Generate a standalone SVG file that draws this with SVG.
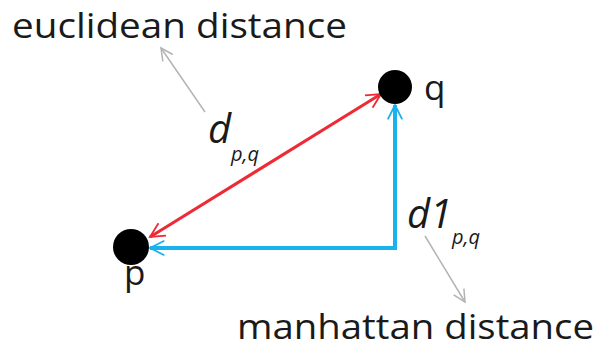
<svg xmlns="http://www.w3.org/2000/svg" width="598" height="349" viewBox="0 0 598 349">
<style>
.t{font-family:"Open Sans","Noto Sans",sans-serif;fill:#1a1a1a}
.i{font-style:italic}
.red{stroke:#ee2b35;stroke-width:3;fill:none}
.blue{stroke:#1ab2ec;stroke-width:4;fill:none}
.gray{stroke:#b3b3b3;stroke-width:1.5;fill:none}
</style>
<defs>
<marker id="ar" viewBox="0 0 10 10" refX="9" refY="5" markerWidth="6" markerHeight="6" orient="auto-start-reverse" markerUnits="strokeWidth"><path d="M1,1 L9,5 L1,9" fill="none" stroke="#ee2b35" stroke-width="1"/></marker>
<marker id="ab" viewBox="0 0 10 10" refX="9" refY="5" markerWidth="4.5" markerHeight="4.5" orient="auto" markerUnits="strokeWidth"><path d="M1,1 L9,5 L1,9" fill="none" stroke="#1ab2ec" stroke-width="1"/></marker>
<marker id="ag" viewBox="0 0 10 10" refX="9" refY="5" markerWidth="10" markerHeight="10" orient="auto" markerUnits="strokeWidth"><path d="M1,1 L9,5 L1,9" fill="none" stroke="#b3b3b3" stroke-width="1"/></marker>
</defs>
<g id="connectors">
<line class="red" x1="150" y1="237" x2="381" y2="94" marker-start="url(#ar)" marker-end="url(#ar)"/>
<polyline class="blue" points="395,248 150,248" marker-end="url(#ab)"/>
<polyline class="blue" points="395,250 395,105" marker-end="url(#ab)"/>
<line class="gray" x1="205" y1="112" x2="161" y2="48" marker-end="url(#ag)"/>
<line class="gray" x1="425" y1="236" x2="465" y2="302" marker-end="url(#ag)"/>
</g>
<g id="q"><circle cx="395" cy="87" r="17" fill="#000"/><text class="t" x="424" y="100" font-size="35">q</text></g>
<g id="p"><circle cx="131" cy="247" r="18" fill="#000"/><text class="t" x="124" y="285" font-size="35">p</text></g>
<g id="euclid"><text class="t" x="12" y="38" font-size="34" textLength="335" lengthAdjust="spacingAndGlyphs">euclidean distance</text></g>
<g id="manhattan"><text class="t" x="237" y="339" font-size="34" textLength="357" lengthAdjust="spacingAndGlyphs">manhattan distance</text></g>
<g id="dpq"><text class="t i" x="208" y="143" font-size="40">d</text><text class="t i" x="231" y="161" font-size="20">p,q</text></g>
<g id="d1pq"><text class="t i" x="407" y="228" font-size="40">d1</text><text class="t i" x="452" y="244" font-size="20">p,q</text></g>
</svg>
